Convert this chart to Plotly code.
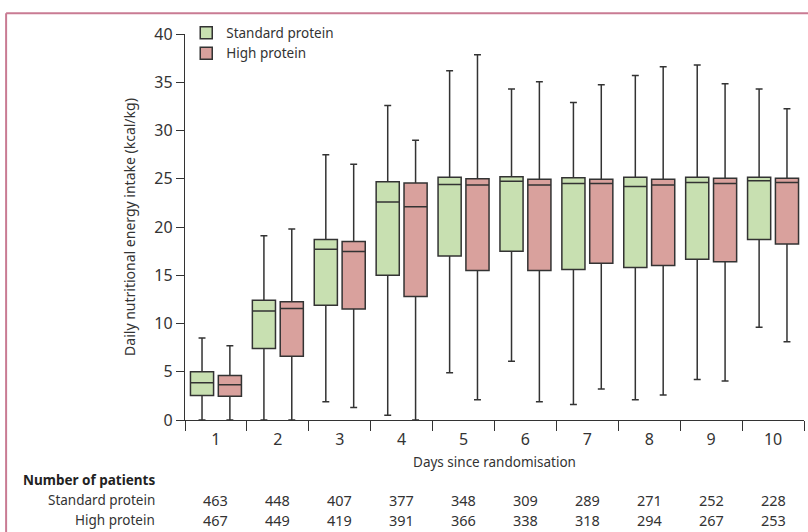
import plotly.graph_objects as go

days = [1, 2, 3, 4, 5, 6, 7, 8, 9, 10]
day_labels = ["1", "2", "3", "4", "5", "6", "7", "8", "9", "10"]

std_low = [0, 0, 1.9, 0.5, 4.9, 6.1, 1.6, 2.1, 4.2, 9.6]
std_q1 = [2.55, 7.4, 11.9, 15.0, 17.0, 17.5, 15.6, 15.8, 16.65, 18.7]
std_med = [3.85, 11.3, 17.7, 22.6, 24.4, 24.75, 24.5, 24.2, 24.6, 24.8]
std_q3 = [5.0, 12.4, 18.7, 24.7, 25.15, 25.2, 25.1, 25.15, 25.15, 25.15]
std_high = [8.5, 19.1, 27.5, 32.6, 36.2, 34.3, 32.9, 35.7, 36.8, 34.3]

hp_low = [0, 0, 1.3, 0, 2.1, 1.9, 3.2, 2.6, 4.05, 8.1]
hp_q1 = [2.45, 6.6, 11.5, 12.8, 15.5, 15.5, 16.25, 16.0, 16.4, 18.25]
hp_med = [3.65, 11.55, 17.45, 22.1, 24.35, 24.35, 24.5, 24.35, 24.5, 24.6]
hp_q3 = [4.6, 12.25, 18.5, 24.55, 25.0, 24.95, 24.95, 24.95, 25.05, 25.05]
hp_high = [7.7, 19.8, 26.5, 29.0, 37.85, 35.05, 34.75, 36.6, 34.85, 32.25]

n_std = [463, 448, 407, 377, 348, 309, 289, 271, 252, 228]
n_hp = [467, 449, 419, 391, 366, 338, 318, 294, 267, 253]

FONT = "Noto Sans"
TXT = "#333333"
LINE = "#333333"
GREEN = "#c8e0b1"
RED = "#d9a19d"
FRAME = "#c97b93"

fig = go.Figure()
fig.add_trace(go.Box(
    x=days, q1=std_q1, median=std_med, q3=std_q3,
    lowerfence=std_low, upperfence=std_high,
    name="Standard protein", fillcolor=GREEN,
    line=dict(color=LINE, width=1.5), whiskerwidth=0.3,
    boxpoints=False, hoverinfo="skip",
))
fig.add_trace(go.Box(
    x=days, q1=hp_q1, median=hp_med, q3=hp_q3,
    lowerfence=hp_low, upperfence=hp_high,
    name="High protein", fillcolor=RED,
    line=dict(color=LINE, width=1.5), whiskerwidth=0.3,
    boxpoints=False, hoverinfo="skip",
))

boundaries = [d - 0.5 for d in days] + [days[-1] + 0.5]
xr = [days[0] - 0.5, days[-1] + 0.5]

annotations = []
for d, a, b in zip(days, n_std, n_hp):
    annotations.append(dict(x=d, y=-0.207, xref="x", yref="paper", text=str(a),
                            xanchor="center", yanchor="middle",
                            showarrow=False, font=dict(size=14.5, color=TXT, family=FONT)))
    annotations.append(dict(x=d, y=-0.259, xref="x", yref="paper", text=str(b),
                            xanchor="center", yanchor="middle",
                            showarrow=False, font=dict(size=14.5, color=TXT, family=FONT)))
annotations.append(dict(x=-0.045, y=-0.155, xref="paper", yref="paper", xanchor="right",
                        yanchor="middle", text="<b>Number of patients</b>", showarrow=False,
                        font=dict(size=13.5, color="#222222", family=FONT)))
annotations.append(dict(x=-0.045, y=-0.207, xref="paper", yref="paper", xanchor="right",
                        yanchor="middle", text="Standard protein", showarrow=False,
                        font=dict(size=13.5, color=TXT, family=FONT)))
annotations.append(dict(x=-0.045, y=-0.259, xref="paper", yref="paper", xanchor="right",
                        yanchor="middle", text="High protein", showarrow=False,
                        font=dict(size=13.5, color=TXT, family=FONT)))

fig.update_layout(
    width=808, height=532,
    margin=dict(l=185, r=4, t=34, b=112),
    paper_bgcolor="white", plot_bgcolor="white",
    boxmode="group", boxgap=0.1, boxgroupgap=0.17,
    font=dict(family=FONT, color=TXT, size=13),
    showlegend=True,
    legend=dict(x=0.002, y=1.043, xanchor="left", yanchor="top",
                font=dict(size=13.5, color=TXT, family=FONT),
                bgcolor="rgba(0,0,0,0)", tracegroupgap=2),
    xaxis=dict(range=xr, tickmode="array", tickvals=days, ticktext=day_labels,
               ticks="", showline=True, linecolor=LINE, linewidth=1.3,
               showgrid=False, zeroline=False, ticklabelstandoff=5,
               tickfont=dict(size=16, color=TXT, family=FONT),
               minor=dict(tickmode="array", tickvals=boundaries, ticks="outside",
                          ticklen=10, tickwidth=1.3, tickcolor=LINE, showgrid=False),
               title=dict(text="Days since randomisation", standoff=8,
                          font=dict(size=13.5, color=TXT, family=FONT))),
    yaxis=dict(range=[0, 40], tickmode="array", tickvals=[0, 5, 10, 15, 20, 25, 30, 35, 40],
               ticks="outside", ticklen=8, tickwidth=1.3, tickcolor=LINE,
               showline=True, linecolor=LINE, linewidth=1.3,
               showgrid=False, zeroline=False,
               tickfont=dict(size=16, color=TXT, family=FONT),
               title=dict(text="Daily nutritional energy intake (kcal/kg)", standoff=15,
                          font=dict(size=14, color=TXT, family=FONT))),
    annotations=annotations,
    shapes=[
        dict(type="line", xref="paper", yref="paper", x0=-0.289, x1=1.01, y0=1.054, y1=1.054,
             line=dict(color=FRAME, width=2)),
        dict(type="line", xref="paper", yref="paper", x0=-0.289, x1=-0.289, y0=1.054, y1=-0.32,
             line=dict(color=FRAME, width=2)),
    ],
)

fig.write_html("out.html", config={"displayModeBar": False},
               post_script="document.body.style.margin='0';document.body.style.overflow='hidden';")
